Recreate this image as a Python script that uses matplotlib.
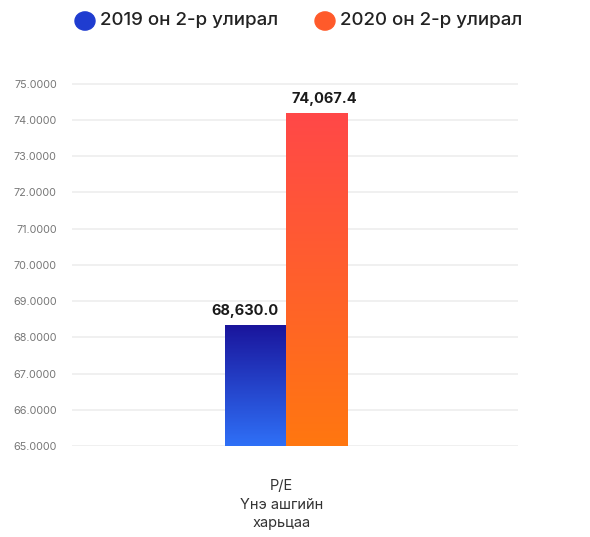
import numpy as np
import matplotlib.pyplot as plt
from matplotlib.colors import LinearSegmentedColormap

series = ['2019 он 2-р улирал', '2020 он 2-р улирал']
values = [68.32, 74.18]
value_labels = ['68,630.0', '74,067.4']
category = 'P/E\nҮнэ ашгийн\nхарьцаа'
y_ticks = [65, 66, 67, 68, 69, 70, 71, 72, 73, 74, 75]

# gradient colors (bottom, top)
grads = [('#2f70f7', '#1a159c'), ('#ff7710', '#ff4848')]

plt.rcParams['font.family'] = ['Inter', 'DejaVu Sans']

fig = plt.figure(figsize=(5.9, 5.37), dpi=100)
ax = fig.add_axes([72/590, 1 - 446/537, 446/590, (446-82)/537])

base = 65
lefts = [-1, 0]
label_shift = [-0.17, 0.13]
for i in range(2):
    cmap = LinearSegmentedColormap.from_list('g%d' % i, [grads[i][0], grads[i][1]])
    grad = np.linspace(0, 1, 256).reshape(-1, 1)
    ax.imshow(grad, extent=[lefts[i], lefts[i] + 1, base, values[i]], origin='lower',
              cmap=cmap, aspect='auto', zorder=2)
    ax.text(lefts[i] + 0.5 + label_shift[i], values[i] + 0.22, value_labels[i], ha='center',
            va='bottom', fontsize=10.5, fontweight='bold', color='#1a1a1a', zorder=3)

ax.set_xlim(-3.51, 3.80)
ax.set_ylim(base, 75.05)
ax.set_yticks(y_ticks)
ax.set_yticklabels(['%.4f' % t for t in y_ticks], fontsize=7.8, color='#777777')
ax.tick_params(axis='y', length=0, pad=11)
ax.set_xticks([])
ax.grid(axis='y', color='#ededed', linewidth=1.2, zorder=0)
for s in ax.spines.values():
    s.set_visible(False)

ax.text(-0.08, 64.1, category, ha='center', va='top', fontsize=10.5, color='#333333',
        linespacing=1.45)

# legend
for x, lab, col in [(85, series[0], '#1f3cd0'), (325, series[1], '#ff5a2a')]:
    fig.patches.append(plt.Circle((x / 590, 1 - 21 / 537), 10 / 590, transform=fig.transFigure,
                                  color=col, figure=fig))
    fig.text((x + 15) / 590, 1 - 21 / 537, lab, ha='left', va='center', fontsize=13.5,
             fontweight='medium', color='#222222')

fig.savefig('out.png', dpi=100)
